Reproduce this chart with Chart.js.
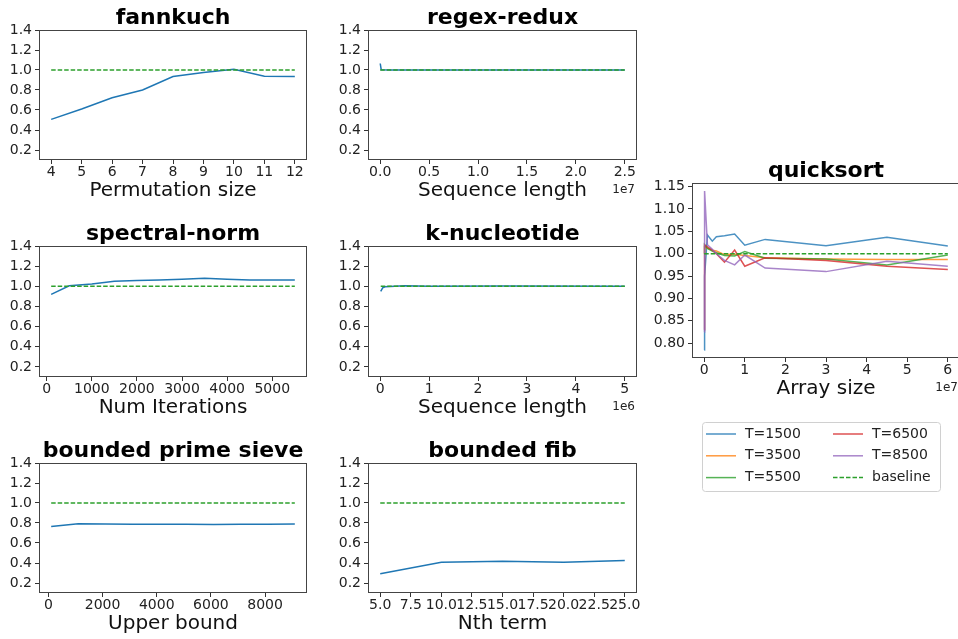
<!DOCTYPE html>
<html>
<head>
<meta charset="utf-8">
<title>Benchmarks</title>
<script src="https://cdn.jsdelivr.net/npm/chart.js@4.4.0/dist/chart.umd.min.js"></script>
<style>
  html, body { margin: 0; padding: 0; background: #fff; overflow: hidden; }
  body { width: 958px; height: 639px; position: relative; }
  canvas { position: absolute; }
</style>
</head>
<body>
<canvas id="fannkuch"></canvas>
<canvas id="regex"></canvas>
<canvas id="spectral"></canvas>
<canvas id="knuc"></canvas>
<canvas id="sieve"></canvas>
<canvas id="fib"></canvas>
<canvas id="quicksort"></canvas>
<script>
// ---- data ----
const fannkuchX = [4, 5, 6, 7, 8, 9, 10, 11, 12];
const fannkuchY = [0.506, 0.61, 0.723, 0.80, 0.934, 0.974, 1.007, 0.937, 0.934];

const regexX = [1e3, 1e5, 1e6, 5e6, 1e7, 2.5e7];
const regexY = [1.065, 1.003, 1.001, 1.0, 1.0, 0.999];

const spectralX = [100, 500, 1000, 1500, 2000, 2500, 3000, 3500, 4000, 4500, 5000, 5500];
const spectralY = [0.92, 1.005, 1.023, 1.05, 1.058, 1.062, 1.07, 1.08, 1.07, 1.062, 1.062, 1.063];

const knucX = [1e4, 5e4, 1e5, 5e5, 1e6, 2.5e6, 5e6];
const knucY = [0.95, 0.985, 0.995, 1.005, 1.0, 1.003, 1.0];

const sieveX = [100, 1100, 2100, 3100, 4100, 5100, 6100, 7100, 8100, 9100];
const sieveY = [0.765, 0.793, 0.79, 0.788, 0.787, 0.787, 0.786, 0.788, 0.787, 0.789];

const fibX = [5, 10, 15, 20, 25];
const fibY = [0.292, 0.407, 0.417, 0.407, 0.426];

const quickX = [1e4, 1e5, 8e5, 2e6, 3e6, 5e6, 7.5e6, 1e7, 1.5e7, 3e7, 4.5e7, 6e7];
const quickT1500 = [0.785, 0.95, 1.042, 1.028, 1.038, 1.040, 1.044, 1.019, 1.032, 1.018, 1.037, 1.017];
const quickT3500 = [1.0, 1.015, 1.012, 1.008, 1.006, 0.998, 0.999, 0.996, 0.991, 0.988, 0.987, 0.987];
const quickT5500 = [1.0, 1.02, 1.012, 1.006, 1.002, 0.996, 0.995, 1.005, 0.990, 0.988, 0.975, 0.997];
const quickT6500 = [0.83, 1.02, 1.015, 1.008, 1.0, 0.981, 1.008, 0.972, 0.991, 0.985, 0.972, 0.965];
const quickT8500 = [0.825, 1.14, 1.020, 1.010, 1.000, 0.985, 0.975, 0.997, 0.968, 0.960, 0.983, 0.972];

const baselineY = [1.0, 1.0];

const yTicks = [0.2, 0.4, 0.6, 0.8, 1.0, 1.2, 1.4];
const quickYTicks = [0.80, 0.85, 0.90, 0.95, 1.00, 1.05, 1.10, 1.15];

// ---- layout ----
const PAD_L = 45, PAD_T = 32, PAD_R = 25, PAD_B = 48;
const FONT = 'DejaVu Sans';

const decorPlugin = {
    id: 'decor',
    afterDraw(chart, args, opts) {
        const { ctx, chartArea: a } = chart;
        ctx.save();
        // axes frame
        ctx.strokeStyle = '#444';
        ctx.lineWidth = 1;
        ctx.strokeRect(Math.round(a.left) + 0.5, Math.round(a.top) + 0.5,
            Math.round(a.right - a.left) - 1, Math.round(a.bottom - a.top) - 1);
        // title
        ctx.fillStyle = '#000';
        ctx.font = 'bold 22px ' + FONT;
        ctx.textAlign = 'center';
        ctx.textBaseline = 'alphabetic';
        ctx.fillText(opts.title, (a.left + a.right) / 2, a.top - 6.5);
        // offset text (1e7 etc)
        if (opts.offset) {
            ctx.font = '12px ' + FONT;
            ctx.fillStyle = '#222';
            ctx.textAlign = 'right';
            ctx.textBaseline = 'middle';
            ctx.fillText(opts.offset, Math.min(a.right - 2, 955), a.bottom + 30);
        }
        // legend
        if (opts.legend) {
            const bx = a.left + 10, by = a.bottom + 64, bw = 238, bh = 69;
            ctx.fillStyle = 'rgba(255,255,255,0.8)';
            ctx.strokeStyle = '#d0d0d0';
            ctx.beginPath();
            ctx.roundRect(bx + 0.5, by + 0.5, bw, bh, 3);
            ctx.fill();
            ctx.stroke();
            ctx.font = '14px ' + FONT;
            ctx.textAlign = 'left';
            ctx.textBaseline = 'middle';
            chart.data.datasets.forEach((ds, i) => {
                const col = Math.floor(i / 3), row = i % 3;
                const lx = bx + 4 + col * 127;
                const ly = by + 12 + row * 21.8;
                ctx.strokeStyle = ds.borderColor;
                ctx.lineWidth = 1.5;
                ctx.setLineDash(ds.borderDash || []);
                ctx.beginPath();
                ctx.moveTo(lx, ly);
                ctx.lineTo(lx + 30, ly);
                ctx.stroke();
                ctx.setLineDash([]);
                ctx.fillStyle = '#222';
                ctx.fillText(ds.label, lx + 39, ly);
            });
        }
        ctx.restore();
    }
};

function points(xs, ys) {
    return xs.map((x, i) => ({ x: x, y: ys[i] }));
}

function makePanel(id, frame, cfg) {
    const canvas = document.getElementById(id);
    const extra = cfg.extraBottom || 0;
    canvas.width = PAD_L + frame.w + PAD_R;
    canvas.height = PAD_T + frame.h + PAD_B + extra;
    canvas.style.left = (frame.left - PAD_L) + 'px';
    canvas.style.top = (frame.top - PAD_T) + 'px';

    const datasets = cfg.series.map(s => ({
        label: s.label,
        data: points(s.x, s.y),
        borderColor: s.color,
        borderWidth: 1.5,
        borderDash: s.dash || [],
        pointRadius: 0,
        tension: 0,
        fill: false
    }));
    // later series drawn above earlier ones, like matplotlib
    datasets.forEach((d, i) => { d.order = datasets.length - i; });

    const tickFont = { family: FONT, size: 14 };
    new Chart(canvas, {
        type: 'line',
        data: { datasets: datasets },
        options: {
            responsive: false,
            animation: false,
            events: [],
            layout: { padding: { top: PAD_T, right: PAD_R, left: 0, bottom: extra } },
            plugins: {
                legend: { display: false },
                tooltip: { enabled: false },
                decor: { title: cfg.title, offset: cfg.offset, legend: cfg.legend }
            },
            scales: {
                x: {
                    type: 'linear',
                    min: cfg.xMin,
                    max: cfg.xMax,
                    afterBuildTicks: s => { s.ticks = cfg.xTicks.map(v => ({ value: v })); },
                    afterFit: s => { s.height = PAD_B; },
                    grid: { drawOnChartArea: false, tickLength: 4, tickColor: '#333' },
                    border: { display: false },
                    ticks: {
                        autoSkip: false, maxRotation: 0, minRotation: 0, padding: 0,
                        color: '#222', font: tickFont,
                        callback: v => cfg.xFmt(v)
                    },
                    title: {
                        display: true, text: cfg.xLabel, color: '#111',
                        font: { family: FONT, size: 20 },
                        padding: { top: 0, bottom: 5 }
                    }
                },
                y: {
                    type: 'linear',
                    min: cfg.yMin,
                    max: cfg.yMax,
                    afterBuildTicks: s => { s.ticks = cfg.yTicks.map(v => ({ value: v })); },
                    afterFit: s => { s.width = PAD_L; },
                    grid: { drawOnChartArea: false, tickLength: 4, tickColor: '#333' },
                    border: { display: false },
                    ticks: {
                        padding: 3, color: '#222', font: tickFont,
                        callback: v => cfg.yFmt(v)
                    }
                }
            }
        },
        plugins: [decorPlugin]
    });
}

const BLUE = '#1f77b4', GREEN = '#2ca02c';
const DASH = [4.5, 2];
const fmt1 = v => v.toFixed(1);
const fmtInt = v => String(v);

function simple(x, y) {
    return [
        { label: 'speedup', x: x, y: y, color: BLUE },
        { label: 'baseline', x: [x[0], x[x.length - 1]], y: baselineY, color: GREEN, dash: DASH }
    ];
}

const COL1 = { left: 39, w: 268 }, COL2 = { left: 368, w: 269 };
const ROW1 = { top: 30, h: 130 }, ROW2 = { top: 246, h: 131 }, ROW3 = { top: 463, h: 130 };
const at = (c, r) => ({ left: c.left, w: c.w, top: r.top, h: r.h });

const common = { yMin: 0.1, yMax: 1.4, yTicks: yTicks, yFmt: fmt1 };

makePanel('fannkuch', at(COL1, ROW1), Object.assign({
    title: 'fannkuch', xLabel: 'Permutation size',
    xMin: 3.6, xMax: 12.4, xTicks: fannkuchX, xFmt: fmtInt,
    series: simple(fannkuchX, fannkuchY)
}, common));

makePanel('regex', at(COL2, ROW1), Object.assign({
    title: 'regex-redux', xLabel: 'Sequence length', offset: '1e7',
    xMin: -1.25e6, xMax: 2.625e7, xTicks: [0, 5e6, 1e7, 1.5e7, 2e7, 2.5e7],
    xFmt: v => (v / 1e7).toFixed(1),
    series: simple(regexX, regexY)
}, common));

makePanel('spectral', at(COL1, ROW2), Object.assign({
    title: 'spectral-norm', xLabel: 'Num Iterations',
    xMin: -170, xMax: 5770, xTicks: [0, 1000, 2000, 3000, 4000, 5000], xFmt: fmtInt,
    series: simple(spectralX, spectralY)
}, common));

makePanel('knuc', at(COL2, ROW2), Object.assign({
    title: 'k-nucleotide', xLabel: 'Sequence length', offset: '1e6',
    xMin: -2.5e5, xMax: 5.25e6, xTicks: [0, 1e6, 2e6, 3e6, 4e6, 5e6],
    xFmt: v => String(Math.round(v / 1e6)),
    series: simple(knucX, knucY)
}, common));

makePanel('sieve', at(COL1, ROW3), Object.assign({
    title: 'bounded prime sieve', xLabel: 'Upper bound',
    xMin: -350, xMax: 9550, xTicks: [0, 2000, 4000, 6000, 8000], xFmt: fmtInt,
    series: simple(sieveX, sieveY)
}, common));

makePanel('fib', at(COL2, ROW3), Object.assign({
    title: 'bounded fib', xLabel: 'Nth term',
    xMin: 4, xMax: 26, xTicks: [5, 7.5, 10, 12.5, 15, 17.5, 20, 22.5, 25], xFmt: fmt1,
    series: simple(fibX, fibY)
}, common));

makePanel('quicksort', { left: 692, top: 183, w: 268, h: 175 }, {
    title: 'quicksort', xLabel: 'Array size', offset: '1e7', legend: true, extraBottom: 105,
    xMin: -3e6, xMax: 6.3e7, xTicks: [0, 1e7, 2e7, 3e7, 4e7, 5e7, 6e7],
    xFmt: v => String(Math.round(v / 1e7)),
    yMin: 0.767, yMax: 1.158, yTicks: quickYTicks, yFmt: v => v.toFixed(2),
    series: [
        { label: 'T=1500', x: quickX, y: quickT1500, color: 'rgba(31,119,180,0.8)' },
        { label: 'T=3500', x: quickX, y: quickT3500, color: 'rgba(255,127,14,0.8)' },
        { label: 'T=5500', x: quickX, y: quickT5500, color: 'rgba(44,160,44,0.8)' },
        { label: 'T=6500', x: quickX, y: quickT6500, color: 'rgba(214,39,40,0.8)' },
        { label: 'T=8500', x: quickX, y: quickT8500, color: 'rgba(148,103,189,0.8)' },
        { label: 'baseline', x: [quickX[0], quickX[quickX.length - 1]], y: baselineY, color: GREEN, dash: DASH }
    ]
});
</script>
</body>
</html>
